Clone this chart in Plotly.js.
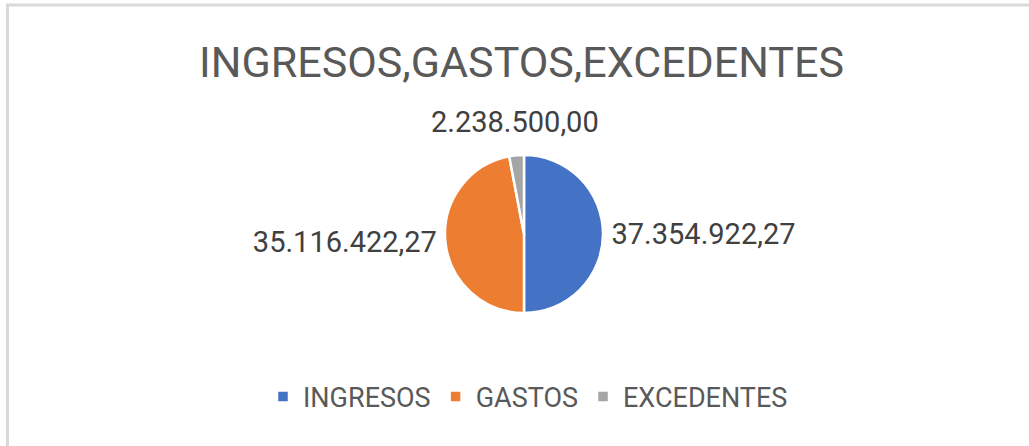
<!DOCTYPE html>
<html>
<head>
<meta charset="utf-8">
<script src="https://cdn.plot.ly/plotly-3.0.1.min.js"></script>
<style>html,body{margin:0;padding:0;background:#fff;}#chart{width:1029px;height:446px;}</style>
</head>
<body>
<div id="chart"></div>
<script>
const categories = ['INGRESOS', 'GASTOS', 'EXCEDENTES'];
const amounts = [37354922.27, 35116422.27, 2238500.00];
const sliceColors = ['#4472C4', '#ED7D31', '#A5A5A5'];
const chartTitle = 'INGRESOS,GASTOS,EXCEDENTES';

const W = 1029, H = 446;
const cx = 524, cy = 234, r = 79;
const FONT = 'Roboto, "Liberation Sans", sans-serif';
const LABEL_SIZE = 29;

// Spanish number format: 37.354.922,27
function fmtES(v) {
  const parts = v.toFixed(2).split('.');
  return parts[0].replace(/\B(?=(\d{3})+(?!\d))/g, '.') + ',' + parts[1];
}

// The smallest (near 12 o'clock) slice gets a centred label above the pie, like the reference;
// its position is derived from the data (slice mid angle).
const total = amounts.reduce((a, b) => a + b, 0);
const topIdx = amounts.length - 1;
const before = amounts.slice(0, topIdx).reduce((a, b) => a + b, 0);
const midAngle = 2 * Math.PI * (before + amounts[topIdx] / 2) / total; // clockwise from 12 o'clock
const gap = 14;
const annX = cx + (r + gap) * Math.sin(midAngle);
const annY = cy - (r + gap) * Math.cos(midAngle);

const templates = amounts.map((v, i) => i === topIdx ? ' ' : '%{value:,.2f}');

const trace = {
  type: 'pie',
  labels: categories,
  values: amounts,
  sort: false,
  direction: 'clockwise',
  rotation: 0,
  marker: { colors: sliceColors, line: { color: '#ffffff', width: 2.5 } },
  textposition: 'outside',
  texttemplate: templates,
  textfont: { family: FONT, size: LABEL_SIZE, color: '#404040' },
  domain: { x: [(cx - r) / W, (cx + r) / W], y: [(H - cy - r) / H, (H - cy + r) / H] },
  hoverinfo: 'label+value',
  automargin: false
};

const layout = {
  width: W, height: H,
  margin: { l: 0, r: 0, t: 0, b: 0 },
  paper_bgcolor: '#ffffff',
  separators: ',.',
  font: { family: FONT, color: '#595959' },
  title: {
    text: chartTitle,
    font: { family: FONT, size: 43, color: '#595959' },
    x: 521.5 / W, xanchor: 'center',
    y: 1 - 62 / H, yanchor: 'middle',
    xref: 'paper', yref: 'paper'
  },
  showlegend: true,
  legend: {
    orientation: 'h',
    x: 528 / W, xanchor: 'center',
    y: 1 - 397 / H, yanchor: 'middle',
    font: { family: FONT, size: 27, color: '#595959' },
    traceorder: 'normal'
  },
  annotations: [{
    xref: 'paper', yref: 'paper',
    x: annX / W, y: 1 - annY / H,
    xanchor: 'center', yanchor: 'bottom',
    text: fmtES(amounts[topIdx]),
    showarrow: false,
    font: { family: FONT, size: LABEL_SIZE, color: '#404040' }
  }],
  shapes: [
    { type: 'line', xref: 'paper', yref: 'paper', x0: 6 / W, x1: 1, y0: 1 - 5 / H, y1: 1 - 5 / H, line: { color: '#d9d9d9', width: 3 } },
    { type: 'line', xref: 'paper', yref: 'paper', x0: 7.5 / W, x1: 7.5 / W, y0: 0, y1: 1 - 4 / H, line: { color: '#d9d9d9', width: 3 } }
  ]
};

Plotly.newPlot('chart', [trace], layout, { displayModeBar: false, staticPlot: true });
</script>
</body>
</html>
